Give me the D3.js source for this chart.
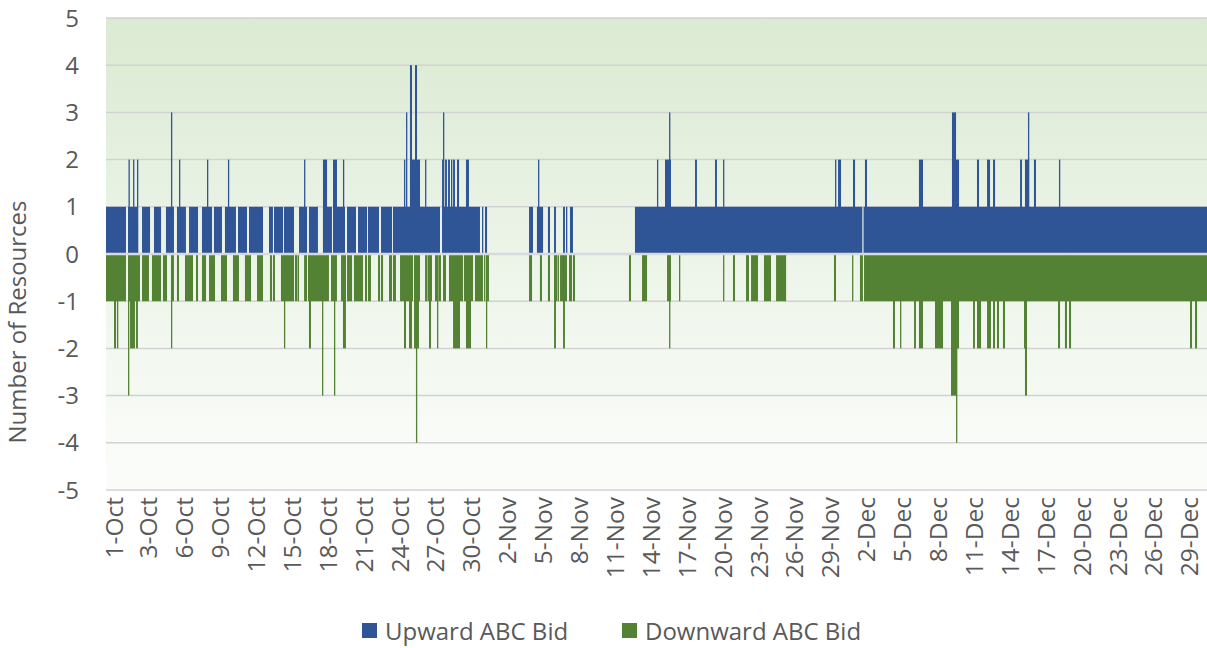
<!DOCTYPE html>
<html lang="en">
<head>
<meta charset="UTF-8">
<title>ABC Bids</title>
<script src="https://cdn.jsdelivr.net/npm/d3@7"></script>
<style>
    body { margin: 0; background: #fff; }
    text { font-family: "Open Sans", sans-serif; fill: #595959; }
</style>
</head>
<body>
<svg width="1207" height="648"></svg>
<script>

// values; x is in days from the start of the axis (1-Oct)

var yTicks = [-5, -4, -3, -2, -1, 0, 1, 2, 3, 4, 5];

var tickLabels = ["1-Oct", "3-Oct", "6-Oct", "9-Oct", "12-Oct", "15-Oct", "18-Oct", "21-Oct",
    "24-Oct", "27-Oct", "30-Oct", "2-Nov", "5-Nov", "8-Nov", "11-Nov", "14-Nov", "17-Nov",
    "20-Nov", "23-Nov", "26-Nov", "29-Nov", "2-Dec", "5-Dec", "8-Dec", "11-Dec", "14-Dec",
    "17-Dec", "20-Dec", "23-Dec", "26-Dec", "29-Dec"];

var tickDays = [0.6, 3.5, 6.5, 9.5, 12.5, 15.5, 18.5, 21.5, 24.5, 27.5, 30.5, 33.5, 36.5, 39.5,
    42.5, 45.5, 48.5, 51.5, 54.5, 57.5, 60.5, 63.5, 66.5, 69.5, 72.5, 75.5, 78.5, 81.5,
    84.5, 87.5, 90.5];

// upward bids at level 1: [start, end]
var upBlocks = [[0,1.67],[1.84,2.67],[3.01,3.68],[4.01,4.6],[5.01,5.68],[5.93,6.68],[6.94,7.69],
    [8.02,8.86],[9.02,9.69],[9.94,10.86],[11.03,11.78],[11.95,13.12],[13.62,13.95],[14.04,14.79],
    [14.87,15.71],[16.13,16.8],[16.96,17.71],[18.13,18.88],[19.05,19.97],[20.14,20.89],[21.06,21.81],
    [21.89,22.81],[22.98,23.9],[23.98,27.91],[28.08,31.25],[31.42,31.5],[31.67,31.84],[35.35,35.68],
    [36.01,36.52],[36.93,37.1],[37.44,37.6],[38.19,38.35],[38.44,38.52],[38.77,39.02],[44.2,63.2],
    [63.3,92]];

// upward bids above 1: [start, end, value]
var upSpikes = [[1.88,1.96,2],[2.26,2.34,2],[2.59,2.67,2],[5.43,5.51,3],[6.1,6.18,2],[8.44,8.52,2],
    [10.19,10.27,2],[16.55,16.63,2],[18.13,18.47,2],[18.97,19.3,2],[19.8,19.88,2],[24.9,24.98,2],
    [25.07,25.12,3],[25.4,26.24,2],[25.4,25.57,4],[25.82,25.99,4],[26.66,26.74,2],[28.08,28.24,2],
    [28.16,28.22,3],[28.33,28.49,2],[28.58,28.74,2],[28.83,28.91,2],[29.0,29.16,2],[29.33,29.5,2],
    [30.08,30.33,2],[36.1,36.18,2],[46.04,46.12,2],[46.71,47.21,2],[47.05,47.11,3],[49.22,49.38,2],
    [50.89,51.05,2],[51.56,51.64,2],[60.92,60.98,2],[61.17,61.42,2],[62.42,62.59,2],[63.42,63.59,2],
    [67.93,68.27,2],[70.69,71.28,2],[70.69,71.03,3],[72.78,72.95,2],[73.62,73.87,2],[74.12,74.29,2],
    [76.38,76.54,2],[76.79,77.13,2],[77.04,77.12,3],[77.54,77.71,2],[79.63,79.69,2]];

// downward bids at level -1: [start, end]
var downBlocks = [[0,1.67],[1.84,2.84],[3.01,3.59],[3.84,4.6],[4.76,5.1],[5.43,5.68],[5.93,6.1],
    [6.6,7.27],[7.52,7.69],[8.02,8.36],[8.61,9.11],[9.61,10.11],[10.61,11.11],[11.61,12.12],
    [12.62,13.12],[13.7,13.87],[13.95,14.12],[14.62,15.71],[15.79,15.96],[16.0,16.13],[16.55,16.8],
    [16.88,18.63],[18.8,19.3],[19.64,20.05],[20.14,20.56],[20.72,21.48],[21.64,21.81],[21.89,22.14],
    [22.73,22.9],[22.98,23.15],[23.65,23.9],[23.98,24.23],[24.57,25.65],[25.74,26.24],[26.66,26.82],
    [26.86,27.24],[27.49,27.74],[27.78,27.99],[28.16,28.41],[28.66,29.83],[29.91,30.67],[30.83,31.5],
    [31.59,31.67],[31.84,32.0],[35.35,35.6],[36.26,36.43],[36.93,37.1],[37.44,37.69],[37.73,37.85],
    [37.94,38.52],[38.69,38.94],[39.02,39.19],[43.7,43.87],[44.79,45.21],[46.88,47.21],[47.88,47.96],
    [51.56,51.64],[52.39,52.56],[53.48,53.73],[53.9,54.48],[54.98,55.57],[55.99,56.83],[60.83,61.0],
    [62.34,62.42],[63.0,63.25],[63.34,92]];

// downward bids below -1: [start, end, value]
var downSpikes = [[0.67,0.84,-2],[0.92,1.0,-2],[1.84,1.9,-3],[2.01,2.42,-2],[2.51,2.67,-2],
    [5.43,5.51,-2],[14.87,14.95,-2],[16.96,17.13,-2],[18.05,18.11,-3],[19.05,19.11,-3],[19.8,20.05,-2],
    [24.9,25.07,-2],[25.32,25.57,-2],[25.74,26.15,-2],[25.9,25.98,-4],[26.99,27.16,-2],[27.66,27.74,-2],
    [29.0,29.58,-2],[30.08,30.5,-2],[31.75,31.83,-2],[37.44,37.6,-2],[38.19,38.35,-2],[47.05,47.13,-2],
    [65.76,65.93,-2],[66.35,66.43,-2],[67.52,67.68,-2],[67.93,68.27,-2],[69.27,69.94,-2],[70.61,71.28,-2],
    [70.61,71.11,-3],[71.03,71.09,-4],[72.45,72.61,-2],[72.78,73.12,-2],[73.62,73.95,-2],[74.12,74.29,-2],
    [74.45,74.62,-2],[74.95,75.12,-2],[76.71,76.88,-2],[76.79,76.96,-3],[79.55,79.72,-2],[80.13,80.3,-2],
    [80.47,80.64,-2],[90.58,90.75,-2],[91.0,91.17,-2]];

var seriesNames = ["Upward ABC Bid", "Downward ABC Bid"];
var seriesColors = ["#2f5597", "#548235"];

var svg = d3.select("svg");
var plotLeft = 106, plotRight = 1207, plotTop = 18, plotBottom = 490;

var x = d3.scaleLinear().domain([0, 92]).range([plotLeft, plotRight]);
var y = d3.scaleLinear().domain([-5, 5]).range([plotBottom, plotTop]);

// plot background, green fading to white
var grad = svg.append("defs").append("linearGradient")
    .attr("id", "bg").attr("x1", 0).attr("y1", 0).attr("x2", 0).attr("y2", 1);
grad.append("stop").attr("offset", "0%").attr("stop-color", "#dbead2");
grad.append("stop").attr("offset", "50%").attr("stop-color", "#ecf4e8");
grad.append("stop").attr("offset", "100%").attr("stop-color", "#fcfdfb");

svg.append("rect")
    .attr("x", plotLeft).attr("y", plotTop)
    .attr("width", plotRight - plotLeft).attr("height", plotBottom - plotTop)
    .attr("fill", "url(#bg)");

// gridlines
svg.append("g")
    .selectAll("line")
    .data(yTicks)
    .enter().append("line")
    .attr("x1", plotLeft).attr("x2", plotRight)
    .attr("y1", function(d) { return y(d); })
    .attr("y2", function(d) { return y(d); })
    .attr("stroke", "#d0d2d4")
    .attr("stroke-width", 1.5);

function drawBars(data, value, color) {
    svg.append("g")
        .selectAll("rect")
        .data(data)
        .enter().append("rect")
        .attr("x", function(d) { return x(d[0]); })
        .attr("width", function(d) { return Math.max(1.3, x(d[1]) - x(d[0])); })
        .attr("y", function(d) { var v = d.length > 2 ? d[2] : value; return v > 0 ? y(v) : y(0); })
        .attr("height", function(d) { var v = d.length > 2 ? d[2] : value; return Math.abs(y(v) - y(0)); })
        .attr("fill", color);
}

drawBars(upBlocks, 1, seriesColors[0]);
drawBars(upSpikes, null, seriesColors[0]);
drawBars(downBlocks, -1, seriesColors[1]);
drawBars(downSpikes, null, seriesColors[1]);

// zero line sits over the bars
svg.append("line")
    .attr("x1", plotLeft).attr("x2", plotRight)
    .attr("y1", y(0)).attr("y2", y(0))
    .attr("stroke", "#d6dadc")
    .attr("stroke-width", 2.5);

// y axis labels
svg.append("g")
    .selectAll("text")
    .data(yTicks)
    .enter().append("text")
    .attr("x", 79)
    .attr("y", function(d) { return y(d); })
    .attr("dy", "0.36em")
    .attr("text-anchor", "end")
    .style("font-size", "24px")
    .text(function(d) { return d; });

svg.append("text")
    .attr("transform", "translate(26,322) rotate(-90)")
    .attr("text-anchor", "middle")
    .style("font-size", "24px")
    .text("Number of Resources");

// x axis labels, rotated
var xAxis = d3.axisBottom(x)
    .tickValues(tickDays)
    .tickFormat(function(d, i) { return tickLabels[i]; })
    .tickSize(0);

var gx = svg.append("g")
    .attr("transform", "translate(0," + plotBottom + ")")
    .call(xAxis);
gx.select(".domain").remove();
gx.selectAll("text")
    .attr("transform", "rotate(-90)")
    .attr("text-anchor", "end")
    .attr("x", -7)
    .attr("y", 0)
    .attr("dy", "0.36em")
    .style("font-size", "24.5px")
    .style("font-family", "'Open Sans', sans-serif")
    .attr("fill", "#595959");

// legend
var legendX = [362, 622];
var legend = svg.append("g")
    .selectAll("g")
    .data(seriesNames)
    .enter().append("g")
    .attr("transform", function(d, i) { return "translate(" + legendX[i] + ",631)"; });

legend.append("rect")
    .attr("x", 0).attr("y", -8)
    .attr("width", 15).attr("height", 15)
    .attr("fill", function(d, i) { return seriesColors[i]; });

legend.append("text")
    .attr("x", 23)
    .attr("dy", "0.36em")
    .style("font-size", "24px")
    .text(function(d) { return d; });

</script>
</body>
</html>
